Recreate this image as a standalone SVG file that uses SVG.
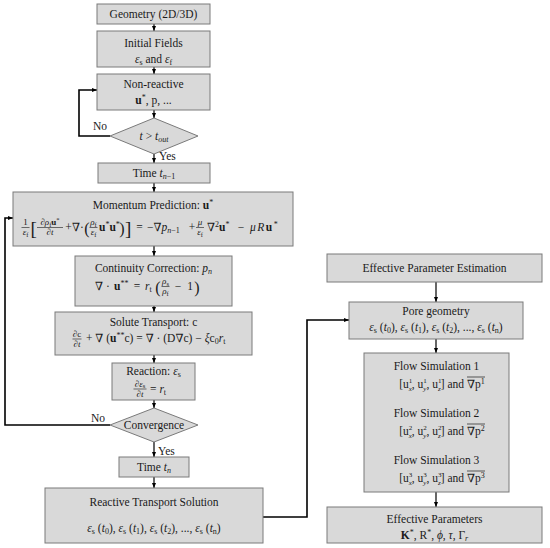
<svg xmlns="http://www.w3.org/2000/svg" width="550" height="548" viewBox="0 0 550 548" font-family="'Liberation Serif', 'DejaVu Serif', serif">
<defs>
<style>
.box{fill:#d9d9d9;stroke:#7a7a7a;stroke-width:1}
text{font-family:"Liberation Serif","DejaVu Serif",serif;font-size:11.5px;fill:#1a1a1a}
.c{text-anchor:middle}
.e{text-anchor:end}
.i{font-style:italic}
.b{font-weight:bold}
.s{font-size:8px}
.f{font-size:9px}
.ss{font-size:6.5px}
.sp{font-size:7px}
.br{font-size:19px}
.pr{font-size:16px}
.ln{fill:none;stroke:#000;stroke-width:1.2}
.lp{fill:none;stroke:#000;stroke-width:1.6}
.fr{stroke:#1a1a1a;stroke-width:0.6}
.ol{stroke:#1a1a1a;stroke-width:0.7}
</style>
<marker id="ah" viewBox="0 0 10 10" refX="10" refY="5" markerWidth="5" markerHeight="5" markerUnits="userSpaceOnUse" orient="auto">
<path d="M0,1 L10,5 L0,9 z" fill="#000"/>
</marker>
</defs>
<rect width="550" height="548" fill="#fff"/>

<g id="connectors">
<path class="ln" d="M154,24 V31" marker-end="url(#ah)"/>
<path class="ln" d="M154,67 V74" marker-end="url(#ah)"/>
<path class="ln" d="M154,110 V118" marker-end="url(#ah)"/>
<path class="ln" d="M154,154 V163" marker-end="url(#ah)"/>
<path class="ln" d="M154,183 V192" marker-end="url(#ah)"/>
<path class="ln" d="M154,246 V256" marker-end="url(#ah)"/>
<path class="ln" d="M154,306 V312" marker-end="url(#ah)"/>
<path class="ln" d="M154,355 V363" marker-end="url(#ah)"/>
<path class="ln" d="M154,400 V408" marker-end="url(#ah)"/>
<path class="ln" d="M154,442 V457" marker-end="url(#ah)"/>
<path class="ln" d="M154,477 V488" marker-end="url(#ah)"/>
<path class="lp" d="M110,136 H79 V90 H97" marker-end="url(#ah)"/>
<path class="lp" d="M110,425 H5 V218 H13" marker-end="url(#ah)"/>
<path class="lp" d="M263,517 H307 V320 H349" marker-end="url(#ah)"/>
<path class="ln" d="M436,282 V302" marker-end="url(#ah)"/>
<path class="ln" d="M436,339 V353" marker-end="url(#ah)"/>
<path class="ln" d="M436,492 V507" marker-end="url(#ah)"/>
<text class="c" x="100" y="130">No</text>
<text x="159" y="160">Yes</text>
<text class="c" x="98" y="422">No</text>
<text x="158" y="455">Yes</text>
</g>

<g id="geometry">
<rect class="box" x="97" y="4" width="113" height="20"/>
<text class="c" x="153.5" y="18">Geometry (2D/3D)</text>
</g>

<g id="initial-fields">
<rect class="box" x="97" y="31" width="113" height="36"/>
<text class="c" x="153.5" y="47">Initial Fields</text>
<text class="c" x="153.5" y="63"><tspan class="i">ε</tspan><tspan class="s" dy="2">s</tspan><tspan dy="-2"> and </tspan><tspan class="i">ε</tspan><tspan class="s" dy="2">f</tspan></text>
</g>

<g id="non-reactive">
<rect class="box" x="97" y="74" width="113" height="36"/>
<text class="c" x="153.5" y="88">Non-reactive</text>
<text class="c" x="153.5" y="104"><tspan class="b">u</tspan><tspan class="s" dy="-4">*</tspan><tspan dy="4">, p, ...</tspan></text>
</g>

<g id="decision-tout">
<polygon class="box" points="154,118 198,136 154,154 110,136"/>
<text class="c" x="154" y="140"><tspan class="i">t</tspan> &gt; <tspan class="i">t</tspan><tspan class="s i" dy="2">out</tspan></text>
</g>

<g id="time-n-1">
<rect class="box" x="98" y="163" width="112" height="20"/>
<text class="c" x="154" y="177">Time <tspan class="i">t</tspan><tspan class="s" dy="2"><tspan class="i">n</tspan>−1</tspan></text>
</g>

<g id="momentum">
<rect class="box" x="13" y="192" width="280" height="54"/>
<text class="c" x="153" y="209">Momentum Prediction: <tspan class="b">u</tspan><tspan class="s" dy="-4">*</tspan></text>
<text class="c f" x="25.5" y="225">1</text>
<line class="fr" x1="21.5" y1="227.5" x2="29.5" y2="227.5"/>
<text class="c f" x="25.5" y="235"><tspan class="i">ε</tspan><tspan class="ss" dy="1.5">f</tspan></text>
<text class="br" x="30.5" y="235">[</text>
<text class="c f" x="50" y="225">∂<tspan class="i">ρ</tspan><tspan class="ss" dy="1.5">f</tspan><tspan class="b" dy="-1.5">u</tspan><tspan class="ss" dy="-3">*</tspan></text>
<line class="fr" x1="37" y1="227.5" x2="63" y2="227.5"/>
<text class="c f" x="50" y="235">∂<tspan class="i">t</tspan></text>
<text class="c" x="68.5" y="231">+</text>
<text class="c" x="76" y="231">∇</text>
<text class="c" x="82" y="231">·</text>
<text class="c pr" x="87" y="234">(</text>
<text class="c f" x="93.5" y="225"><tspan class="i">ρ</tspan><tspan class="ss" dy="1.5">f</tspan></text>
<line class="fr" x1="89.5" y1="227.5" x2="97.5" y2="227.5"/>
<text class="c f" x="93.5" y="235"><tspan class="i">ε</tspan><tspan class="ss" dy="1.5">f</tspan></text>
<text x="99" y="231"><tspan class="b">u</tspan><tspan class="s" dy="-4">*</tspan><tspan class="b" dy="4">u</tspan><tspan class="s" dy="-4">*</tspan></text>
<text class="c pr" x="122" y="234">)</text>
<text class="br" x="125" y="235">]</text>
<text class="c" x="139.5" y="231">=</text>
<text x="147" y="231">−∇<tspan class="i">p</tspan><tspan class="s" dy="2"><tspan class="i">n</tspan>−1</tspan></text>
<text class="c" x="192" y="231">+</text>
<text class="c f" x="200" y="225"><tspan class="i">μ</tspan></text>
<line class="fr" x1="196" y1="227.5" x2="204" y2="227.5"/>
<text class="c f" x="200" y="235"><tspan class="i">ε</tspan><tspan class="ss" dy="1.5">f</tspan></text>
<text x="207" y="231">∇<tspan class="s" dy="-4">2</tspan><tspan class="b" dy="4">u</tspan><tspan class="s" dy="-4">*</tspan></text>
<text class="c" x="241" y="231">−</text>
<text x="250" y="231" letter-spacing="1.5"><tspan class="i">μR</tspan><tspan class="b">u</tspan><tspan class="s" dy="-4">*</tspan></text>
</g>

<g id="continuity">
<rect class="box" x="75" y="256" width="157" height="50"/>
<text class="c" x="153.5" y="272">Continuity Correction: <tspan class="i">p</tspan><tspan class="s i" dy="2">n</tspan></text>
<text class="c" x="99" y="290">∇</text>
<text class="c" x="108" y="290">·</text>
<text x="114" y="290"><tspan class="b">u</tspan><tspan class="s" dy="-4">**</tspan></text>
<text class="c" x="137" y="290">=</text>
<text x="145" y="290"><tspan class="i">r</tspan><tspan class="s" dy="2">t</tspan></text>
<text class="c pr" x="158" y="293">(</text>
<text class="c f" x="165.5" y="284"><tspan class="i">ρ</tspan><tspan class="ss" dy="1.5">s</tspan></text>
<line class="fr" x1="161.5" y1="286.5" x2="169.5" y2="286.5"/>
<text class="c f" x="165.5" y="294"><tspan class="i">ρ</tspan><tspan class="ss" dy="1.5">f</tspan></text>
<text class="c" x="178" y="290">−</text>
<text class="c" x="190" y="290">1</text>
<text class="c pr" x="197" y="293">)</text>
</g>

<g id="solute">
<rect class="box" x="55" y="312" width="197" height="43"/>
<text class="c" x="153.5" y="326">Solute Transport: c</text>
<text class="c f" x="77" y="336.5">∂c</text>
<line class="fr" x1="72.5" y1="339" x2="81.5" y2="339"/>
<text class="c f" x="77" y="346.5">∂<tspan class="i">t</tspan></text>
<text x="86" y="342">+ ∇ (<tspan class="b">u</tspan><tspan class="s" dy="-4">**</tspan><tspan dy="4">c) = ∇ · (D∇c) − </tspan><tspan class="i">ξ</tspan>c<tspan class="s" dy="2">0</tspan><tspan class="i" dy="-2">r</tspan><tspan class="s" dy="2">t</tspan></text>
</g>

<g id="reaction">
<rect class="box" x="112" y="363" width="83" height="37"/>
<text class="c" x="153.5" y="375">Reaction: <tspan class="i">ε</tspan><tspan class="s" dy="1.5">s</tspan></text>
<text class="c f" x="140" y="386.5">∂<tspan class="i">ε</tspan><tspan class="ss" dy="1.5">s</tspan></text>
<line class="fr" x1="133.5" y1="389" x2="146.5" y2="389"/>
<text class="c f" x="140" y="396.5">∂<tspan class="i">t</tspan></text>
<text x="150" y="392.5">= <tspan class="i">r</tspan><tspan class="s" dy="2">t</tspan></text>
</g>

<g id="decision-convergence">
<polygon class="box" points="154,408 198,425 154,442 110,425"/>
<text class="c" x="154" y="429">Convergence</text>
</g>

<g id="time-n">
<rect class="box" x="119" y="457" width="70" height="20"/>
<text class="c" x="154" y="471">Time <tspan class="i">t</tspan><tspan class="s i" dy="2">n</tspan></text>
</g>

<g id="reactive-transport-solution">
<rect class="box" x="45" y="488" width="218" height="55"/>
<text class="c" x="154" y="506">Reactive Transport Solution</text>
<text class="c" x="154" y="532"><tspan class="i">ε</tspan><tspan class="s" dy="2">s</tspan><tspan dy="-2"> (</tspan><tspan class="i">t</tspan><tspan class="s" dy="2">0</tspan><tspan dy="-2">), </tspan><tspan class="i">ε</tspan><tspan class="s" dy="2">s</tspan><tspan dy="-2"> (</tspan><tspan class="i">t</tspan><tspan class="s" dy="2">1</tspan><tspan dy="-2">), </tspan><tspan class="i">ε</tspan><tspan class="s" dy="2">s</tspan><tspan dy="-2"> (</tspan><tspan class="i">t</tspan><tspan class="s" dy="2">2</tspan><tspan dy="-2">), ..., </tspan><tspan class="i">ε</tspan><tspan class="s" dy="2">s</tspan><tspan dy="-2"> (</tspan><tspan class="i">t</tspan><tspan class="s" dy="2">n</tspan><tspan dy="-2">)</tspan></text>
</g>

<g id="effective-parameter-estimation">
<rect class="box" x="327" y="254" width="215" height="28"/>
<text class="c" x="434.5" y="272">Effective Parameter Estimation</text>
</g>

<g id="pore-geometry">
<rect class="box" x="349" y="302" width="174" height="37"/>
<text class="c" x="436" y="315">Pore geometry</text>
<text class="c" x="436" y="331"><tspan class="i">ε</tspan><tspan class="s" dy="2">s</tspan><tspan dy="-2"> (</tspan><tspan class="i">t</tspan><tspan class="s" dy="2">0</tspan><tspan dy="-2">), </tspan><tspan class="i">ε</tspan><tspan class="s" dy="2">s</tspan><tspan dy="-2"> (</tspan><tspan class="i">t</tspan><tspan class="s" dy="2">1</tspan><tspan dy="-2">), </tspan><tspan class="i">ε</tspan><tspan class="s" dy="2">s</tspan><tspan dy="-2"> (</tspan><tspan class="i">t</tspan><tspan class="s" dy="2">2</tspan><tspan dy="-2">), ..., </tspan><tspan class="i">ε</tspan><tspan class="s" dy="2">s</tspan><tspan dy="-2"> (</tspan><tspan class="i">t</tspan><tspan class="s" dy="2">n</tspan><tspan dy="-2">)</tspan></text>
</g>

<g id="flow-simulations">
<rect class="box" x="364" y="353" width="145" height="139"/>
<text class="c" x="436.5" y="370">Flow Simulation 1</text>
<text class="e" x="464" y="388">[u<tspan class="sp" dy="-5">1</tspan><tspan class="sp i" dx="-3.5" dy="8">x</tspan><tspan dy="-3">, u</tspan><tspan class="sp" dy="-5">1</tspan><tspan class="sp i" dx="-3.5" dy="8">y</tspan><tspan dy="-3">, u</tspan><tspan class="sp" dy="-5">1</tspan><tspan class="sp i" dx="-3.5" dy="8">z</tspan><tspan dy="-3">] and</tspan></text>
<text x="467" y="388">∇p<tspan class="s" dy="-4">1</tspan></text>
<line class="ol" x1="467" y1="377" x2="485" y2="377"/>
<text class="c" x="436.5" y="417">Flow Simulation 2</text>
<text class="e" x="464" y="435">[u<tspan class="sp" dy="-5">2</tspan><tspan class="sp i" dx="-3.5" dy="8">x</tspan><tspan dy="-3">, u</tspan><tspan class="sp" dy="-5">2</tspan><tspan class="sp i" dx="-3.5" dy="8">y</tspan><tspan dy="-3">, u</tspan><tspan class="sp" dy="-5">2</tspan><tspan class="sp i" dx="-3.5" dy="8">z</tspan><tspan dy="-3">] and</tspan></text>
<text x="467" y="435">∇p<tspan class="s" dy="-4">2</tspan></text>
<line class="ol" x1="467" y1="424" x2="485" y2="424"/>
<text class="c" x="436.5" y="464">Flow Simulation 3</text>
<text class="e" x="464" y="482">[u<tspan class="sp" dy="-5">3</tspan><tspan class="sp i" dx="-3.5" dy="8">x</tspan><tspan dy="-3">, u</tspan><tspan class="sp" dy="-5">3</tspan><tspan class="sp i" dx="-3.5" dy="8">y</tspan><tspan dy="-3">, u</tspan><tspan class="sp" dy="-5">3</tspan><tspan class="sp i" dx="-3.5" dy="8">z</tspan><tspan dy="-3">] and</tspan></text>
<text x="467" y="482">∇p<tspan class="s" dy="-4">3</tspan></text>
<line class="ol" x1="467" y1="471" x2="485" y2="471"/>
</g>

<g id="effective-parameters">
<rect class="box" x="327" y="507" width="215" height="36"/>
<text class="c" x="434.5" y="523">Effective Parameters</text>
<text class="c" x="434.5" y="539"><tspan class="b">K</tspan><tspan class="s" dy="-4">*</tspan><tspan dy="4">, R</tspan><tspan class="s" dy="-4">*</tspan><tspan dy="4">, </tspan><tspan class="i">ϕ</tspan>, <tspan class="i">τ</tspan>, Γ<tspan class="s i" dy="2">r</tspan></text>
</g>
</svg>
